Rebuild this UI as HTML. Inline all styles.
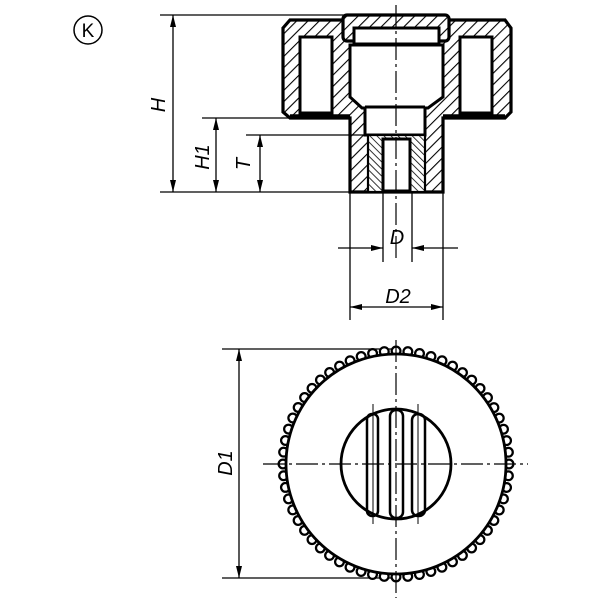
<!DOCTYPE html>
<html><head><style>
html,body{margin:0;padding:0;background:#fff;}
svg{display:block;}
text{font-family:"Liberation Sans",sans-serif;font-style:italic;fill:#000;}
</style></head><body>
<svg width="600" height="600" viewBox="0 0 600 600" xmlns="http://www.w3.org/2000/svg">
<defs>
<pattern id="h" patternUnits="userSpaceOnUse" width="8" height="8" patternTransform="rotate(45)">
<rect width="8" height="8" fill="#fff"/><line x1="0" y1="0" x2="0" y2="8" stroke="#000" stroke-width="2.2"/>
</pattern>
<pattern id="h2" patternUnits="userSpaceOnUse" width="5" height="5" patternTransform="rotate(-45)">
<rect width="5" height="5" fill="#fff"/><line x1="0" y1="0" x2="0" y2="5" stroke="#000" stroke-width="1.6"/>
</pattern>
<marker id="a" viewBox="0 0 12 6" refX="12" refY="3" markerWidth="12" markerHeight="6" orient="auto-start-reverse" markerUnits="userSpaceOnUse">
<path d="M0,0 L12,3 L0,6 Z" fill="#000"/></marker>
</defs>

<circle cx="88" cy="30" r="14" fill="none" stroke="#000" stroke-width="1.5"/>
<text x="88" y="37" font-size="19" text-anchor="middle" style="font-style:normal">K</text>

<path d="M283,28 L290,20 L505,20 L511,28 L511,112 L505,118 L443,118 L443,192 L350,192 L350,118 L290,118 L283,112 Z" fill="url(#h)" stroke="#000" stroke-width="3.2"/>
<rect x="343" y="15" width="106" height="26" rx="4" fill="url(#h)" stroke="#000" stroke-width="3.2"/>
<rect x="300" y="37" width="32" height="76" fill="#fff" stroke="#000" stroke-width="3"/>
<rect x="460" y="37" width="32" height="76" fill="#fff" stroke="#000" stroke-width="3"/>
<line x1="290" y1="116" x2="350" y2="116" stroke="#000" stroke-width="3.5"/>
<line x1="443" y1="116" x2="505" y2="116" stroke="#000" stroke-width="3.5"/>
<path d="M350,45 L443,45 L443,97 L428,108 L425,108 L425,135 L365,135 L365,108 L362,108 L350,97 Z" fill="#fff" stroke="#000" stroke-width="3"/>
<rect x="354" y="28" width="85" height="16" fill="#fff" stroke="#000" stroke-width="3"/>
<line x1="365" y1="107" x2="425" y2="107" stroke="#000" stroke-width="3"/>
<rect x="368" y="135" width="57" height="57" fill="url(#h2)" stroke="#000" stroke-width="2.2"/>
<rect x="383" y="139" width="27" height="52" fill="#fff" stroke="#000" stroke-width="3"/>
<line x1="396" y1="5" x2="396" y2="260" stroke="#000" stroke-width="1.2" stroke-dasharray="22,4,3,4"/>

<g stroke="#000" stroke-width="1.3" fill="none">
<line x1="160" y1="15" x2="345" y2="15"/>
<line x1="160" y1="192" x2="350" y2="192"/>
<line x1="202" y1="118" x2="290" y2="118"/>
<line x1="246" y1="135" x2="365" y2="135"/>
<line x1="173" y1="15" x2="173" y2="192" marker-start="url(#a)" marker-end="url(#a)"/>
<line x1="216" y1="118" x2="216" y2="192" marker-start="url(#a)" marker-end="url(#a)"/>
<line x1="260" y1="135" x2="260" y2="192" marker-start="url(#a)" marker-end="url(#a)"/>
<line x1="350" y1="192" x2="350" y2="320"/>
<line x1="443" y1="192" x2="443" y2="320"/>
<line x1="383" y1="192" x2="383" y2="262"/>
<line x1="412" y1="192" x2="412" y2="262"/>
<line x1="338" y1="248" x2="383" y2="248" marker-end="url(#a)"/>
<line x1="458" y1="248" x2="412" y2="248" marker-end="url(#a)"/>
<line x1="350" y1="307" x2="443" y2="307" marker-start="url(#a)" marker-end="url(#a)"/>
<line x1="222" y1="349" x2="396" y2="349"/>
<line x1="222" y1="578" x2="396" y2="578"/>
<line x1="239" y1="349" x2="239" y2="578" marker-start="url(#a)" marker-end="url(#a)"/>
</g>
<text x="165" y="105" font-size="20" text-anchor="middle" transform="rotate(-90 165 105)">H</text>
<text x="209" y="157" font-size="20" text-anchor="middle" transform="rotate(-90 209 157)">H1</text>
<text x="250" y="164" font-size="20" text-anchor="middle" transform="rotate(-90 250 164)">T</text>
<text x="397" y="244" font-size="20" text-anchor="middle">D</text>
<text x="398" y="303" font-size="20" text-anchor="middle">D2</text>
<text x="232" y="463" font-size="20" text-anchor="middle" transform="rotate(-90 232 463)">D1</text>

<circle cx="396" cy="464" r="113" fill="none" stroke="#000" stroke-width="11" stroke-linecap="round" stroke-dasharray="0 11.83"/>
<circle cx="396" cy="464" r="113" fill="none" stroke="#fff" stroke-width="6.5" stroke-linecap="round" stroke-dasharray="0 11.83"/>
<g stroke="#000" fill="none">
<circle cx="396" cy="464" r="110" stroke-width="2.8" fill="#fff"/>
<circle cx="396" cy="464" r="55" stroke-width="2.8"/>
<rect x="367" y="414" width="11" height="102" rx="5" stroke-width="2.5"/>
<rect x="390" y="410" width="13" height="108" rx="6" stroke-width="2.5"/>
<rect x="412" y="414" width="13" height="102" rx="6" stroke-width="2.5"/>
<line x1="373" y1="404" x2="373" y2="524" stroke-width="1"/>
<line x1="418" y1="404" x2="418" y2="524" stroke-width="1"/>
<line x1="263" y1="464" x2="528" y2="464" stroke-width="1.2" stroke-dasharray="22,4,3,4"/>
<line x1="396" y1="340" x2="396" y2="598" stroke-width="1.2" stroke-dasharray="22,4,3,4"/>
</g>
</svg>
</body></html>
